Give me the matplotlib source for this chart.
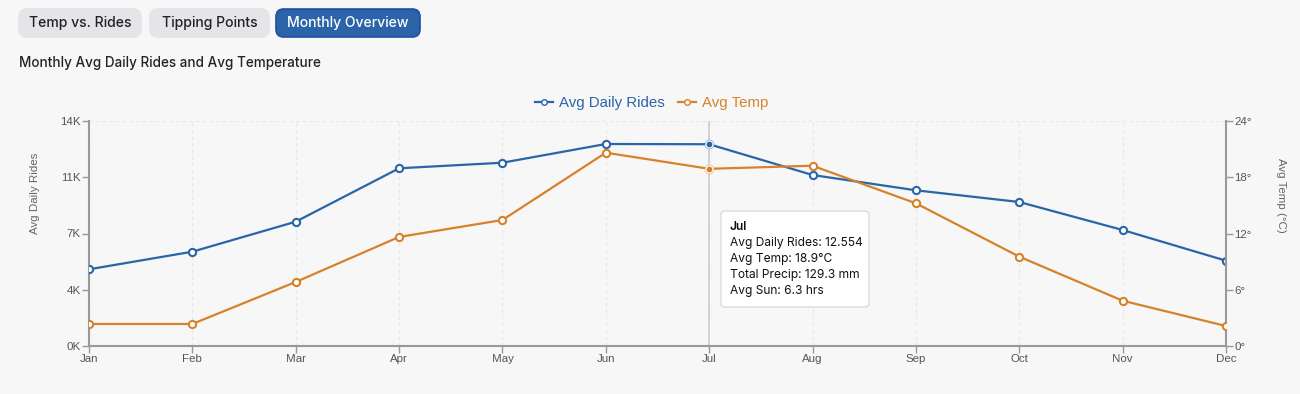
import matplotlib.pyplot as plt
from matplotlib.patches import FancyBboxPatch
from matplotlib.lines import Line2D

# data
months = ["Jan", "Feb", "Mar", "Apr", "May", "Jun", "Jul", "Aug", "Sep", "Oct", "Nov", "Dec"]
avg_rides = [4772, 5868, 7734, 11057, 11405, 12569, 12554, 10640, 9688, 8960, 7218, 5308]
avg_temp = [2.35, 2.35, 6.83, 11.63, 13.44, 20.62, 18.9, 19.23, 15.22, 9.53, 4.83, 2.13]
ride_ticks = [0, 3500, 7000, 10500, 14000]
ride_tick_labels = ["0K", "4K", "7K", "11K", "14K"]
temp_ticks = [0, 6, 12, 18, 24]
temp_tick_labels = ["0°", "6°", "12°", "18°", "24°"]
tabs = ["Temp vs. Rides", "Tipping Points", "Monthly Overview"]
tooltip_lines = ["Avg Daily Rides: 12.554", "Avg Temp: 18.9°C",
                 "Total Precip: 129.3 mm", "Avg Sun: 6.3 hrs"]
hover_idx = 6

BLUE = "#2a65a8"
ORANGE = "#d7822a"
BG = "#f7f7f7"
AXIS = "#999999"
TICK = "#555555"

W, H = 1300, 394
fig = plt.figure(figsize=(W / 100, H / 100), dpi=100, facecolor=BG)


def px(x, y):
    return x / W, 1 - y / H


def fs(p):
    return p * 0.72


# tabs
tab_boxes = [(19, 141), (150, 269), (276, 420)]
for i, (name, (x0, x1)) in enumerate(zip(tabs, tab_boxes)):
    active = i == 2
    bx, by = px(x0, 37)
    bw = (x1 - x0) / W
    bh = 28 / H
    fig.patches.append(FancyBboxPatch(
        (bx, by), bw, bh, boxstyle="round,pad=0,rounding_size=0.006",
        transform=fig.transFigure, mutation_aspect=W / H,
        facecolor="#2b64a8" if active else "#e4e4e9",
        edgecolor="#1f4fa0" if active else "#e4e4e9", linewidth=1.2))
    cx, cy = px((x0 + x1) / 2, 23)
    fig.text(cx, cy, name, ha="center", va="center", fontsize=fs(14),
             family="Inter", weight="medium",
             color="white" if active else "#222222")

fig.text(*px(19, 63), "Monthly Avg Daily Rides and Avg Temperature",
         ha="left", va="center", fontsize=fs(13.5), family="Inter",
         weight="medium", color="#222222")

# plot area
left, top = px(89, 121)
right, bottom = px(1226, 346)
ax = fig.add_axes([left, bottom, right - left, top - bottom])
ax.set_facecolor(BG)
ax2 = ax.twinx()

x = list(range(len(months)))

for xi in x:
    ax.axvline(xi, color="#e6e6e6", lw=0.8, ls=(0, (3, 3)), zorder=0)
ax.axhline(14000, color="#e6e6e6", lw=0.8, ls=(0, (3, 3)), zorder=0)
ax.axvline(hover_idx, color="#cccccc", lw=1.2, zorder=1)

ax.plot(x, avg_rides, color=BLUE, lw=1.6, marker="o", ms=5.2,
        mfc="white", mec=BLUE, mew=1.5, zorder=3)
ax.plot([hover_idx], [avg_rides[hover_idx]], "o", color=BLUE, ms=5.2,
        mec="white", mew=1, zorder=4)
ax2.plot(x, avg_temp, color=ORANGE, lw=1.6, marker="o", ms=5.2,
         mfc="white", mec=ORANGE, mew=1.5, zorder=3)
ax2.plot([hover_idx], [avg_temp[hover_idx]], "o", color=ORANGE, ms=5.2,
         mec="white", mew=1, zorder=4)

ax.set_xlim(0, 11)
ax.set_ylim(0, 14000)
ax2.set_ylim(0, 24)
ax.set_xticks(x)
ax.set_xticklabels(months)
ax.set_yticks(ride_ticks)
ax.set_yticklabels(ride_tick_labels)
ax2.set_yticks(temp_ticks)
ax2.set_yticklabels(temp_tick_labels)

for a in (ax, ax2):
    for s in a.spines.values():
        s.set_visible(False)
    a.tick_params(colors=AXIS, labelcolor=TICK, labelsize=fs(11.5), length=5, width=1)
    for lab in a.get_xticklabels() + a.get_yticklabels():
        lab.set_family("Liberation Sans")
ax.spines["left"].set_visible(True)
ax.spines["bottom"].set_visible(True)
ax2.spines["right"].set_visible(True)
for s in (ax.spines["left"], ax.spines["bottom"], ax2.spines["right"]):
    s.set_color(AXIS)
    s.set_linewidth(1.5)
ax.tick_params(axis="x", pad=1)
ax.tick_params(axis="y", pad=1)
ax2.tick_params(axis="y", pad=1)

# axis titles sit above the axis middle, as in the reference
fig.text(*px(35, 193), "Avg Daily Rides", rotation=90, ha="center", va="center",
         fontsize=fs(11.5), color="#666666", family="Liberation Sans")
fig.text(*px(1281, 195), "Avg Temp (°C)", rotation=270, ha="center", va="center",
         fontsize=fs(11.5), color="#666666", family="Liberation Sans")

# legend
handles = [Line2D([], [], color=BLUE, lw=1.6, marker="o", ms=4, mfc="white", mec=BLUE),
           Line2D([], [], color=ORANGE, lw=1.6, marker="o", ms=4, mfc="white", mec=ORANGE)]
leg = fig.legend(handles, ["Avg Daily Rides", "Avg Temp"], loc="center",
                 bbox_to_anchor=px(652, 103), ncol=2, frameon=False,
                 handlelength=1.2, handletextpad=0.4, columnspacing=0.9,
                 prop={"family": "Liberation Sans", "size": fs(15)})
for t, c in zip(leg.get_texts(), [BLUE, ORANGE]):
    t.set_color(c)

# tooltip
tx0, ty1 = px(721, 307)
fig.patches.append(FancyBboxPatch(
    (tx0, ty1), 148 / W, 96 / H, boxstyle="round,pad=0,rounding_size=0.003",
    transform=fig.transFigure, mutation_aspect=W / H,
    facecolor="white", edgecolor="#d4d4d4", linewidth=0.8, zorder=10))
fig.text(*px(730, 227), months[hover_idx], ha="left", va="center",
         fontsize=fs(12), family="Inter", weight="semibold", color="#111111", zorder=11)
for i, line in enumerate(tooltip_lines):
    fig.text(*px(730, 243 + 16 * i), line, ha="left", va="center",
             fontsize=fs(12), family="Inter", color="#111111", zorder=11)

fig.savefig("out.png", dpi=100, facecolor=BG)
